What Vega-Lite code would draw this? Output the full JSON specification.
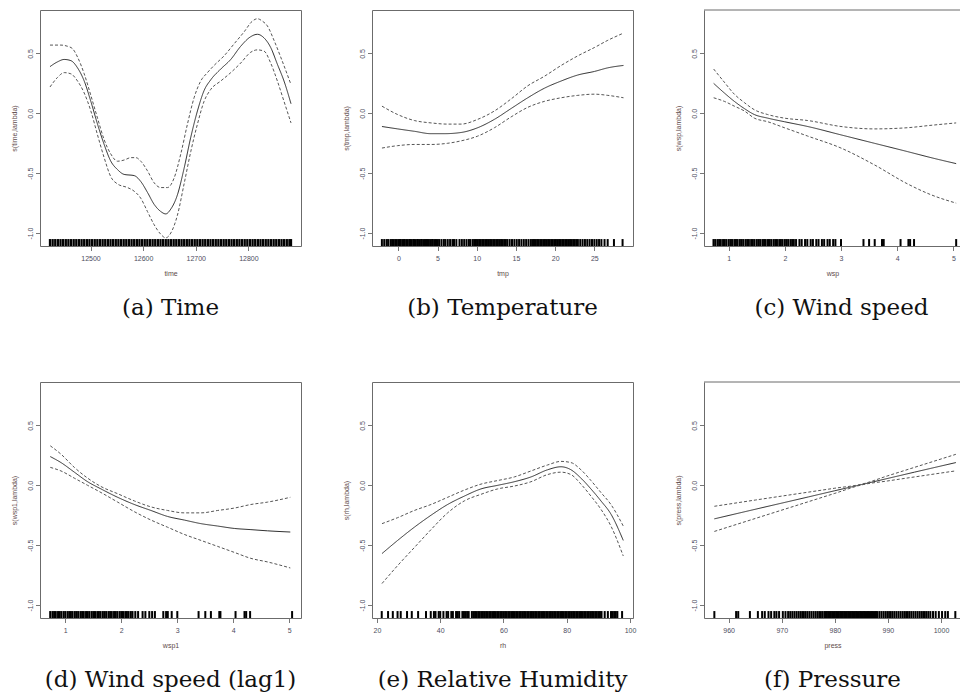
{
"$schema": "https://vega.github.io/schema/vega-lite/v6.json",
"background": "white",
"padding": {"left": 9, "top": 9, "right": 0, "bottom": 0},
"bounds": "flush",
"spacing": 372,
"vconcat": [
{"bounds": "flush", "spacing": 71, "hconcat": [
 {"width": 261, "height": 236, "title": {"text": "(a)  Time"},
  "layer": [
   {"data": {"name": "a_rug"}, "mark": {"type": "rule", "color": "#000", "strokeWidth": 2.3},
    "encoding": {"x": {"field": "x", "type": "quantitative", "scale": {"domain": [12404, 12900], "nice": false, "zero": false}, "axis": {"values": [12500, 12600, 12700, 12800], "format": "d", "title": "time"}},
     "y": {"datum": -1.108, "type": "quantitative", "scale": {"domain": [-1.108, 0.863], "nice": false, "zero": false}, "axis": {"values": [-1, -0.5, 0, 0.5], "labelExpr": "datum.value < 0 ? '-' + format(-datum.value, '.1f') : format(datum.value, '.1f')", "title": "s(time,lambda)"}},
     "y2": {"datum": -1.05}}},
   {"data": {"name": "a_curve"}, "mark": {"type": "line", "interpolate": "monotone", "strokeWidth": 1},
    "encoding": {"x": {"field": "x", "type": "quantitative"}, "y": {"field": "y", "type": "quantitative"},
     "strokeDash": {"field": "s", "type": "nominal", "scale": {"domain": ["fit", "hi", "lo"], "range": [[1, 0], [3, 2], [3, 2]]}, "legend": null},
     "color": {"field": "s", "type": "nominal", "scale": {"domain": ["fit", "hi", "lo"], "range": ["#2e2e2e", "#555555", "#555555"]}, "legend": null}}}
  ]},
 {"width": 261, "height": 236, "title": {"text": "(b)  Temperature"},
  "layer": [
   {"data": {"name": "b_rug"}, "mark": {"type": "rule", "color": "#000", "strokeWidth": 2},
    "encoding": {"x": {"field": "x", "type": "quantitative", "scale": {"domain": [-3.36, 29.93], "nice": false, "zero": false}, "axis": {"values": [0, 5, 10, 15, 20, 25], "format": "d", "title": "tmp"}},
     "y": {"datum": -1.108, "type": "quantitative", "scale": {"domain": [-1.108, 0.863], "nice": false, "zero": false}, "axis": {"values": [-1, -0.5, 0, 0.5], "labelExpr": "datum.value < 0 ? '-' + format(-datum.value, '.1f') : format(datum.value, '.1f')", "title": "s(tmp,lambda)"}},
     "y2": {"datum": -1.05}}},
   {"data": {"name": "b_curve"}, "mark": {"type": "line", "interpolate": "monotone", "strokeWidth": 1},
    "encoding": {"x": {"field": "x", "type": "quantitative"}, "y": {"field": "y", "type": "quantitative"},
     "strokeDash": {"field": "s", "type": "nominal", "scale": {"domain": ["fit", "hi", "lo"], "range": [[1, 0], [3, 2], [3, 2]]}, "legend": null},
     "color": {"field": "s", "type": "nominal", "scale": {"domain": ["fit", "hi", "lo"], "range": ["#2e2e2e", "#555555", "#555555"]}, "legend": null}}}
  ]},
 {"width": 257, "height": 236, "title": {"text": "(c)  Wind speed", "dx": 9}, "view": {"stroke": null},
  "layer": [
   {"data": {"values": [{}]}, "mark": {"type": "rule", "color": "#6b6b6b", "strokeWidth": 1},
    "encoding": {"y": {"datum": 0.863, "type": "quantitative"}}},
   {"data": {"name": "c_rug"}, "mark": {"type": "rule", "color": "#000", "strokeWidth": 2},
    "encoding": {"x": {"field": "x", "type": "quantitative", "scale": {"domain": [0.561, 5.136], "nice": false, "zero": false}, "axis": {"values": [1, 2, 3, 4, 5], "format": "d", "title": "wsp", "domain": true}},
     "y": {"datum": -1.108, "type": "quantitative", "scale": {"domain": [-1.108, 0.863], "nice": false, "zero": false}, "axis": {"values": [-1, -0.5, 0, 0.5], "labelExpr": "datum.value < 0 ? '-' + format(-datum.value, '.1f') : format(datum.value, '.1f')", "title": "s(wsp,lambda)", "domain": true}},
     "y2": {"datum": -1.05}}},
   {"data": {"name": "c_curve"}, "mark": {"type": "line", "interpolate": "monotone", "strokeWidth": 1},
    "encoding": {"x": {"field": "x", "type": "quantitative"}, "y": {"field": "y", "type": "quantitative"},
     "strokeDash": {"field": "s", "type": "nominal", "scale": {"domain": ["fit", "hi", "lo"], "range": [[1, 0], [3, 2], [3, 2]]}, "legend": null},
     "color": {"field": "s", "type": "nominal", "scale": {"domain": ["fit", "hi", "lo"], "range": ["#2e2e2e", "#555555", "#555555"]}, "legend": null}}}
  ]}
]},
{"bounds": "flush", "spacing": 71, "hconcat": [
 {"width": 261, "height": 236, "title": {"text": "(d)  Wind speed (lag1)"},
  "layer": [
   {"data": {"name": "d_rug"}, "mark": {"type": "rule", "color": "#000", "strokeWidth": 2},
    "encoding": {"x": {"field": "x", "type": "quantitative", "scale": {"domain": [0.548, 5.209], "nice": false, "zero": false}, "axis": {"values": [1, 2, 3, 4, 5], "format": "d", "title": "wsp1"}},
     "y": {"datum": -1.108, "type": "quantitative", "scale": {"domain": [-1.108, 0.863], "nice": false, "zero": false}, "axis": {"values": [-1, -0.5, 0, 0.5], "labelExpr": "datum.value < 0 ? '-' + format(-datum.value, '.1f') : format(datum.value, '.1f')", "title": "s(wsp1,lambda)"}},
     "y2": {"datum": -1.05}}},
   {"data": {"name": "d_curve"}, "mark": {"type": "line", "interpolate": "monotone", "strokeWidth": 1},
    "encoding": {"x": {"field": "x", "type": "quantitative"}, "y": {"field": "y", "type": "quantitative"},
     "strokeDash": {"field": "s", "type": "nominal", "scale": {"domain": ["fit", "hi", "lo"], "range": [[1, 0], [3, 2], [3, 2]]}, "legend": null},
     "color": {"field": "s", "type": "nominal", "scale": {"domain": ["fit", "hi", "lo"], "range": ["#2e2e2e", "#555555", "#555555"]}, "legend": null}}}
  ]},
 {"width": 261, "height": 236, "title": {"text": "(e)  Relative Humidity"},
  "layer": [
   {"data": {"name": "e_rug"}, "mark": {"type": "rule", "color": "#000", "strokeWidth": 2},
    "encoding": {"x": {"field": "x", "type": "quantitative", "scale": {"domain": [18.42, 100.95], "nice": false, "zero": false}, "axis": {"values": [20, 40, 60, 80, 100], "format": "d", "title": "rh"}},
     "y": {"datum": -1.108, "type": "quantitative", "scale": {"domain": [-1.108, 0.863], "nice": false, "zero": false}, "axis": {"values": [-1, -0.5, 0, 0.5], "labelExpr": "datum.value < 0 ? '-' + format(-datum.value, '.1f') : format(datum.value, '.1f')", "title": "s(rh,lambda)"}},
     "y2": {"datum": -1.05}}},
   {"data": {"name": "e_curve"}, "mark": {"type": "line", "interpolate": "monotone", "strokeWidth": 1},
    "encoding": {"x": {"field": "x", "type": "quantitative"}, "y": {"field": "y", "type": "quantitative"},
     "strokeDash": {"field": "s", "type": "nominal", "scale": {"domain": ["fit", "hi", "lo"], "range": [[1, 0], [3, 2], [3, 2]]}, "legend": null},
     "color": {"field": "s", "type": "nominal", "scale": {"domain": ["fit", "hi", "lo"], "range": ["#2e2e2e", "#555555", "#555555"]}, "legend": null}}}
  ]},
 {"width": 257, "height": 236, "title": {"text": "(f)  Pressure"}, "view": {"stroke": null},
  "layer": [
   {"data": {"values": [{}]}, "mark": {"type": "rule", "color": "#6b6b6b", "strokeWidth": 1},
    "encoding": {"y": {"datum": 0.863, "type": "quantitative"}}},
   {"data": {"name": "f_rug"}, "mark": {"type": "rule", "color": "#000", "strokeWidth": 2},
    "encoding": {"x": {"field": "x", "type": "quantitative", "scale": {"domain": [955.35, 1003.77], "nice": false, "zero": false}, "axis": {"values": [960, 970, 980, 990, 1000], "format": "d", "title": "press", "domain": true}},
     "y": {"datum": -1.108, "type": "quantitative", "scale": {"domain": [-1.108, 0.863], "nice": false, "zero": false}, "axis": {"values": [-1, -0.5, 0, 0.5], "labelExpr": "datum.value < 0 ? '-' + format(-datum.value, '.1f') : format(datum.value, '.1f')", "title": "s(press,lambda)", "domain": true}},
     "y2": {"datum": -1.05}}},
   {"data": {"name": "f_curve"}, "mark": {"type": "line", "interpolate": "monotone", "strokeWidth": 1},
    "encoding": {"x": {"field": "x", "type": "quantitative"}, "y": {"field": "y", "type": "quantitative"},
     "strokeDash": {"field": "s", "type": "nominal", "scale": {"domain": ["fit", "hi", "lo"], "range": [[1, 0], [3, 2], [3, 2]]}, "legend": null},
     "color": {"field": "s", "type": "nominal", "scale": {"domain": ["fit", "hi", "lo"], "range": ["#2e2e2e", "#555555", "#555555"]}, "legend": null}}}
  ]}
]}
],
"datasets": {
"a_rug": [{"x":12423},{"x":12428},{"x":12433},{"x":12438},{"x":12443},{"x":12448},{"x":12453},{"x":12458},{"x":12463},{"x":12468},{"x":12473},{"x":12478},{"x":12483},{"x":12488},{"x":12493},{"x":12498},{"x":12503},{"x":12508},{"x":12513},{"x":12518},{"x":12523},{"x":12528},{"x":12533},{"x":12538},{"x":12543},{"x":12548},{"x":12553},{"x":12558},{"x":12563},{"x":12568},{"x":12573},{"x":12578},{"x":12583},{"x":12588},{"x":12593},{"x":12598},{"x":12603},{"x":12608},{"x":12613},{"x":12618},{"x":12623},{"x":12628},{"x":12633},{"x":12638},{"x":12643},{"x":12648},{"x":12653},{"x":12658},{"x":12663},{"x":12668},{"x":12673},{"x":12678},{"x":12683},{"x":12688},{"x":12693},{"x":12698},{"x":12703},{"x":12708},{"x":12713},{"x":12718},{"x":12723},{"x":12728},{"x":12733},{"x":12738},{"x":12743},{"x":12748},{"x":12753},{"x":12758},{"x":12763},{"x":12768},{"x":12773},{"x":12778},{"x":12783},{"x":12788},{"x":12793},{"x":12798},{"x":12803},{"x":12808},{"x":12813},{"x":12818},{"x":12823},{"x":12828},{"x":12833},{"x":12838},{"x":12843},{"x":12848},{"x":12853},{"x":12858},{"x":12863},{"x":12868},{"x":12873},{"x":12878},{"x":12881}],
"a_curve": [
{"x":12423,"y":0.39,"s":"fit"},{"x":12437.3,"y":0.43,"s":"fit"},{"x":12450,"y":0.45,"s":"fit"},{"x":12462.7,"y":0.44,"s":"fit"},{"x":12475.3,"y":0.38,"s":"fit"},{"x":12488,"y":0.27,"s":"fit"},{"x":12500.6,"y":0.10,"s":"fit"},{"x":12513.3,"y":-0.09,"s":"fit"},{"x":12525.9,"y":-0.26,"s":"fit"},{"x":12538.6,"y":-0.40,"s":"fit"},{"x":12551.3,"y":-0.47,"s":"fit"},{"x":12563.9,"y":-0.51,"s":"fit"},{"x":12582.9,"y":-0.52,"s":"fit"},{"x":12595.6,"y":-0.57,"s":"fit"},{"x":12608.2,"y":-0.66,"s":"fit"},{"x":12620.9,"y":-0.76,"s":"fit"},{"x":12633.5,"y":-0.82,"s":"fit"},{"x":12643,"y":-0.84,"s":"fit"},{"x":12652.5,"y":-0.80,"s":"fit"},{"x":12665.2,"y":-0.68,"s":"fit"},{"x":12677.8,"y":-0.46,"s":"fit"},{"x":12690.5,"y":-0.20,"s":"fit"},{"x":12703.2,"y":0.02,"s":"fit"},{"x":12715.8,"y":0.19,"s":"fit"},{"x":12728.5,"y":0.28,"s":"fit"},{"x":12747.5,"y":0.37,"s":"fit"},{"x":12766.5,"y":0.45,"s":"fit"},{"x":12785.4,"y":0.56,"s":"fit"},{"x":12804.4,"y":0.64,"s":"fit"},{"x":12817.1,"y":0.66,"s":"fit"},{"x":12829.7,"y":0.63,"s":"fit"},{"x":12842.4,"y":0.55,"s":"fit"},{"x":12855.1,"y":0.41,"s":"fit"},{"x":12867.7,"y":0.27,"s":"fit"},{"x":12881,"y":0.08,"s":"fit"},
{"x":12423,"y":0.57,"s":"hi"},{"x":12443.7,"y":0.57,"s":"hi"},{"x":12456.3,"y":0.56,"s":"hi"},{"x":12465.8,"y":0.54,"s":"hi"},{"x":12475.3,"y":0.47,"s":"hi"},{"x":12488,"y":0.33,"s":"hi"},{"x":12500.6,"y":0.15,"s":"hi"},{"x":12513.3,"y":-0.04,"s":"hi"},{"x":12525.9,"y":-0.22,"s":"hi"},{"x":12538.6,"y":-0.34,"s":"hi"},{"x":12551.3,"y":-0.40,"s":"hi"},{"x":12563.9,"y":-0.39,"s":"hi"},{"x":12576.6,"y":-0.37,"s":"hi"},{"x":12586.1,"y":-0.37,"s":"hi"},{"x":12595.6,"y":-0.40,"s":"hi"},{"x":12608.2,"y":-0.48,"s":"hi"},{"x":12620.9,"y":-0.58,"s":"hi"},{"x":12633.5,"y":-0.62,"s":"hi"},{"x":12646.2,"y":-0.62,"s":"hi"},{"x":12658.9,"y":-0.54,"s":"hi"},{"x":12671.5,"y":-0.34,"s":"hi"},{"x":12684.2,"y":-0.09,"s":"hi"},{"x":12696.8,"y":0.13,"s":"hi"},{"x":12709.5,"y":0.27,"s":"hi"},{"x":12722.2,"y":0.34,"s":"hi"},{"x":12734.8,"y":0.40,"s":"hi"},{"x":12753.8,"y":0.48,"s":"hi"},{"x":12772.8,"y":0.58,"s":"hi"},{"x":12791.8,"y":0.68,"s":"hi"},{"x":12807.6,"y":0.77,"s":"hi"},{"x":12817.1,"y":0.79,"s":"hi"},{"x":12826.6,"y":0.77,"s":"hi"},{"x":12836.1,"y":0.73,"s":"hi"},{"x":12848.7,"y":0.61,"s":"hi"},{"x":12861.4,"y":0.47,"s":"hi"},{"x":12881,"y":0.24,"s":"hi"},
{"x":12423,"y":0.22,"s":"lo"},{"x":12437.3,"y":0.30,"s":"lo"},{"x":12450,"y":0.34,"s":"lo"},{"x":12462.7,"y":0.33,"s":"lo"},{"x":12475.3,"y":0.27,"s":"lo"},{"x":12488,"y":0.17,"s":"lo"},{"x":12500.6,"y":0.02,"s":"lo"},{"x":12513.3,"y":-0.18,"s":"lo"},{"x":12525.9,"y":-0.37,"s":"lo"},{"x":12538.6,"y":-0.53,"s":"lo"},{"x":12551.3,"y":-0.59,"s":"lo"},{"x":12570.3,"y":-0.62,"s":"lo"},{"x":12582.9,"y":-0.65,"s":"lo"},{"x":12595.6,"y":-0.71,"s":"lo"},{"x":12608.2,"y":-0.82,"s":"lo"},{"x":12620.9,"y":-0.93,"s":"lo"},{"x":12633.5,"y":-1.01,"s":"lo"},{"x":12643,"y":-1.04,"s":"lo"},{"x":12652.5,"y":-1.00,"s":"lo"},{"x":12665.2,"y":-0.85,"s":"lo"},{"x":12677.8,"y":-0.59,"s":"lo"},{"x":12690.5,"y":-0.32,"s":"lo"},{"x":12703.2,"y":-0.09,"s":"lo"},{"x":12715.8,"y":0.10,"s":"lo"},{"x":12728.5,"y":0.20,"s":"lo"},{"x":12747.5,"y":0.27,"s":"lo"},{"x":12766.5,"y":0.34,"s":"lo"},{"x":12785.4,"y":0.42,"s":"lo"},{"x":12804.4,"y":0.51,"s":"lo"},{"x":12817.1,"y":0.53,"s":"lo"},{"x":12829.7,"y":0.52,"s":"lo"},{"x":12842.4,"y":0.42,"s":"lo"},{"x":12855.1,"y":0.27,"s":"lo"},{"x":12867.7,"y":0.10,"s":"lo"},{"x":12881,"y":-0.08,"s":"lo"}],
"b_rug": [{"x":-2.1},{"x":-1.8},{"x":-1.5},{"x":-1.3},{"x":-1.0},{"x":-0.8},{"x":-0.6},{"x":-0.4},{"x":-0.2},{"x":0.0},{"x":0.2},{"x":0.3},{"x":0.5},{"x":0.7},{"x":0.8},{"x":1.0},{"x":1.2},{"x":1.4},{"x":1.5},{"x":1.7},{"x":1.9},{"x":2.0},{"x":2.2},{"x":2.4},{"x":2.5},{"x":2.7},{"x":2.9},{"x":3.0},{"x":3.2},{"x":3.4},{"x":3.6},{"x":3.7},{"x":3.9},{"x":4.1},{"x":4.3},{"x":4.4},{"x":4.6},{"x":4.8},{"x":5.0},{"x":5.2},{"x":5.5},{"x":5.8},{"x":6.0},{"x":6.3},{"x":6.6},{"x":6.9},{"x":7.1},{"x":7.4},{"x":7.8},{"x":8.1},{"x":8.4},{"x":8.7},{"x":9.0},{"x":9.2},{"x":9.5},{"x":9.7},{"x":9.9},{"x":10.1},{"x":10.3},{"x":10.5},{"x":10.7},{"x":10.9},{"x":11.1},{"x":11.3},{"x":11.5},{"x":11.7},{"x":11.9},{"x":12.1},{"x":12.3},{"x":12.5},{"x":12.7},{"x":12.9},{"x":13.1},{"x":13.3},{"x":13.5},{"x":13.7},{"x":13.9},{"x":14.2},{"x":14.5},{"x":14.8},{"x":15.1},{"x":15.4},{"x":15.7},{"x":16.0},{"x":16.3},{"x":16.6},{"x":16.9},{"x":17.1},{"x":17.3},{"x":17.5},{"x":17.7},{"x":17.9},{"x":18.1},{"x":18.3},{"x":18.5},{"x":18.7},{"x":18.9},{"x":19.1},{"x":19.3},{"x":19.5},{"x":19.7},{"x":19.9},{"x":20.1},{"x":20.3},{"x":20.5},{"x":20.7},{"x":20.9},{"x":21.1},{"x":21.3},{"x":21.5},{"x":21.7},{"x":21.9},{"x":22.1},{"x":22.3},{"x":22.5},{"x":22.7},{"x":22.9},{"x":23.2},{"x":23.5},{"x":23.8},{"x":24.1},{"x":24.4},{"x":24.7},{"x":25.0},{"x":25.3},{"x":25.6},{"x":25.9},{"x":26.3},{"x":26.7},{"x":27.5},{"x":28.6}],
"b_curve": [
{"x":-2.09,"y":-0.11,"s":"fit"},{"x":-0.09,"y":-0.13,"s":"fit"},{"x":2.04,"y":-0.15,"s":"fit"},{"x":4.17,"y":-0.17,"s":"fit"},{"x":5.87,"y":-0.17,"s":"fit"},{"x":8.0,"y":-0.16,"s":"fit"},{"x":10.13,"y":-0.12,"s":"fit"},{"x":12.26,"y":-0.05,"s":"fit"},{"x":14.38,"y":0.04,"s":"fit"},{"x":16.51,"y":0.13,"s":"fit"},{"x":18.64,"y":0.21,"s":"fit"},{"x":20.77,"y":0.27,"s":"fit"},{"x":22.89,"y":0.32,"s":"fit"},{"x":25.02,"y":0.35,"s":"fit"},{"x":26.72,"y":0.38,"s":"fit"},{"x":28.72,"y":0.40,"s":"fit"},
{"x":-2.09,"y":0.06,"s":"hi"},{"x":-0.09,"y":-0.01,"s":"hi"},{"x":2.04,"y":-0.06,"s":"hi"},{"x":4.17,"y":-0.08,"s":"hi"},{"x":6.30,"y":-0.09,"s":"hi"},{"x":8.0,"y":-0.09,"s":"hi"},{"x":10.13,"y":-0.05,"s":"hi"},{"x":12.26,"y":0.02,"s":"hi"},{"x":14.38,"y":0.12,"s":"hi"},{"x":16.51,"y":0.23,"s":"hi"},{"x":18.64,"y":0.31,"s":"hi"},{"x":20.77,"y":0.40,"s":"hi"},{"x":22.89,"y":0.48,"s":"hi"},{"x":25.02,"y":0.55,"s":"hi"},{"x":26.72,"y":0.61,"s":"hi"},{"x":28.72,"y":0.67,"s":"hi"},
{"x":-2.09,"y":-0.29,"s":"lo"},{"x":-0.09,"y":-0.27,"s":"lo"},{"x":2.04,"y":-0.26,"s":"lo"},{"x":4.17,"y":-0.26,"s":"lo"},{"x":6.30,"y":-0.25,"s":"lo"},{"x":8.0,"y":-0.23,"s":"lo"},{"x":10.13,"y":-0.19,"s":"lo"},{"x":12.26,"y":-0.12,"s":"lo"},{"x":14.38,"y":-0.03,"s":"lo"},{"x":16.51,"y":0.05,"s":"lo"},{"x":18.64,"y":0.10,"s":"lo"},{"x":20.77,"y":0.13,"s":"lo"},{"x":22.89,"y":0.15,"s":"lo"},{"x":25.02,"y":0.16,"s":"lo"},{"x":26.72,"y":0.15,"s":"lo"},{"x":28.72,"y":0.13,"s":"lo"}],
"c_rug": [{"x":0.73},{"x":0.76},{"x":0.8},{"x":0.83},{"x":0.86},{"x":0.9},{"x":0.93},{"x":0.96},{"x":1.0},{"x":1.03},{"x":1.06},{"x":1.1},{"x":1.13},{"x":1.16},{"x":1.2},{"x":1.23},{"x":1.26},{"x":1.3},{"x":1.33},{"x":1.36},{"x":1.4},{"x":1.43},{"x":1.46},{"x":1.5},{"x":1.53},{"x":1.56},{"x":1.6},{"x":1.63},{"x":1.66},{"x":1.7},{"x":1.73},{"x":1.76},{"x":1.8},{"x":1.83},{"x":1.86},{"x":1.9},{"x":1.93},{"x":1.96},{"x":2.0},{"x":2.03},{"x":2.06},{"x":2.1},{"x":2.13},{"x":2.16},{"x":2.2},{"x":2.26},{"x":2.3},{"x":2.36},{"x":2.4},{"x":2.46},{"x":2.5},{"x":2.56},{"x":2.6},{"x":2.66},{"x":2.7},{"x":2.76},{"x":2.8},{"x":2.86},{"x":2.9},{"x":3.0},{"x":3.4},{"x":3.5},{"x":3.6},{"x":3.73},{"x":3.76},{"x":4.06},{"x":4.2},{"x":4.23},{"x":4.3},{"x":5.05}],
"c_curve": [
{"x":0.733,"y":0.25,"s":"fit"},{"x":0.923,"y":0.17,"s":"fit"},{"x":1.101,"y":0.10,"s":"fit"},{"x":1.279,"y":0.04,"s":"fit"},{"x":1.457,"y":-0.01,"s":"fit"},{"x":1.694,"y":-0.04,"s":"fit"},{"x":1.991,"y":-0.07,"s":"fit"},{"x":2.407,"y":-0.11,"s":"fit"},{"x":3.0,"y":-0.18,"s":"fit"},{"x":3.593,"y":-0.25,"s":"fit"},{"x":4.187,"y":-0.32,"s":"fit"},{"x":4.602,"y":-0.37,"s":"fit"},{"x":5.05,"y":-0.42,"s":"fit"},
{"x":0.733,"y":0.37,"s":"hi"},{"x":0.923,"y":0.26,"s":"hi"},{"x":1.101,"y":0.16,"s":"hi"},{"x":1.279,"y":0.09,"s":"hi"},{"x":1.457,"y":0.03,"s":"hi"},{"x":1.694,"y":-0.01,"s":"hi"},{"x":1.991,"y":-0.04,"s":"hi"},{"x":2.407,"y":-0.06,"s":"hi"},{"x":3.0,"y":-0.11,"s":"hi"},{"x":3.593,"y":-0.13,"s":"hi"},{"x":4.187,"y":-0.12,"s":"hi"},{"x":4.602,"y":-0.10,"s":"hi"},{"x":5.05,"y":-0.08,"s":"hi"},
{"x":0.733,"y":0.13,"s":"lo"},{"x":0.923,"y":0.10,"s":"lo"},{"x":1.101,"y":0.06,"s":"lo"},{"x":1.279,"y":0.02,"s":"lo"},{"x":1.457,"y":-0.04,"s":"lo"},{"x":1.694,"y":-0.07,"s":"lo"},{"x":1.991,"y":-0.12,"s":"lo"},{"x":2.407,"y":-0.19,"s":"lo"},{"x":3.0,"y":-0.29,"s":"lo"},{"x":3.593,"y":-0.43,"s":"lo"},{"x":4.187,"y":-0.59,"s":"lo"},{"x":4.602,"y":-0.68,"s":"lo"},{"x":5.05,"y":-0.75,"s":"lo"}],
"d_rug": [{"x":0.73},{"x":0.77},{"x":0.8},{"x":0.83},{"x":0.87},{"x":0.9},{"x":0.93},{"x":0.97},{"x":1.0},{"x":1.04},{"x":1.07},{"x":1.1},{"x":1.13},{"x":1.17},{"x":1.2},{"x":1.23},{"x":1.27},{"x":1.3},{"x":1.33},{"x":1.37},{"x":1.4},{"x":1.43},{"x":1.47},{"x":1.5},{"x":1.53},{"x":1.57},{"x":1.6},{"x":1.63},{"x":1.67},{"x":1.7},{"x":1.73},{"x":1.77},{"x":1.8},{"x":1.83},{"x":1.87},{"x":1.9},{"x":1.93},{"x":1.97},{"x":2.0},{"x":2.03},{"x":2.07},{"x":2.1},{"x":2.13},{"x":2.17},{"x":2.2},{"x":2.25},{"x":2.3},{"x":2.38},{"x":2.43},{"x":2.5},{"x":2.55},{"x":2.6},{"x":2.75},{"x":2.8},{"x":2.83},{"x":2.9},{"x":3.0},{"x":3.38},{"x":3.5},{"x":3.6},{"x":3.75},{"x":3.77},{"x":4.04},{"x":4.2},{"x":4.23},{"x":4.3},{"x":5.05}],
"d_curve": [
{"x":0.732,"y":0.24,"s":"fit"},{"x":0.923,"y":0.19,"s":"fit"},{"x":1.161,"y":0.11,"s":"fit"},{"x":1.399,"y":0.03,"s":"fit"},{"x":1.637,"y":-0.03,"s":"fit"},{"x":1.935,"y":-0.10,"s":"fit"},{"x":2.232,"y":-0.16,"s":"fit"},{"x":2.530,"y":-0.21,"s":"fit"},{"x":2.827,"y":-0.26,"s":"fit"},{"x":3.125,"y":-0.29,"s":"fit"},{"x":3.423,"y":-0.32,"s":"fit"},{"x":3.720,"y":-0.34,"s":"fit"},{"x":4.018,"y":-0.36,"s":"fit"},{"x":4.315,"y":-0.37,"s":"fit"},{"x":4.613,"y":-0.38,"s":"fit"},{"x":5.018,"y":-0.39,"s":"fit"},
{"x":0.732,"y":0.33,"s":"hi"},{"x":0.923,"y":0.26,"s":"hi"},{"x":1.161,"y":0.15,"s":"hi"},{"x":1.399,"y":0.06,"s":"hi"},{"x":1.637,"y":-0.01,"s":"hi"},{"x":1.935,"y":-0.07,"s":"hi"},{"x":2.232,"y":-0.13,"s":"hi"},{"x":2.530,"y":-0.18,"s":"hi"},{"x":2.827,"y":-0.21,"s":"hi"},{"x":3.125,"y":-0.23,"s":"hi"},{"x":3.423,"y":-0.23,"s":"hi"},{"x":3.720,"y":-0.21,"s":"hi"},{"x":4.018,"y":-0.19,"s":"hi"},{"x":4.315,"y":-0.16,"s":"hi"},{"x":4.613,"y":-0.14,"s":"hi"},{"x":5.018,"y":-0.10,"s":"hi"},
{"x":0.732,"y":0.15,"s":"lo"},{"x":0.923,"y":0.12,"s":"lo"},{"x":1.161,"y":0.06,"s":"lo"},{"x":1.399,"y":0.00,"s":"lo"},{"x":1.637,"y":-0.06,"s":"lo"},{"x":1.935,"y":-0.14,"s":"lo"},{"x":2.232,"y":-0.22,"s":"lo"},{"x":2.530,"y":-0.29,"s":"lo"},{"x":2.827,"y":-0.35,"s":"lo"},{"x":3.125,"y":-0.41,"s":"lo"},{"x":3.423,"y":-0.46,"s":"lo"},{"x":3.720,"y":-0.51,"s":"lo"},{"x":4.018,"y":-0.56,"s":"lo"},{"x":4.315,"y":-0.61,"s":"lo"},{"x":4.613,"y":-0.64,"s":"lo"},{"x":5.018,"y":-0.69,"s":"lo"}],
"e_rug": [{"x":21.5},{"x":23.5},{"x":25},{"x":26.5},{"x":27.5},{"x":29.5},{"x":31},{"x":33},{"x":35.5},{"x":37},{"x":38},{"x":38.5},{"x":39.5},{"x":40},{"x":41},{"x":42},{"x":42.5},{"x":43.5},{"x":44},{"x":45},{"x":45.5},{"x":46},{"x":47},{"x":47.5},{"x":48},{"x":48.5},{"x":49},{"x":50},{"x":50.5},{"x":51},{"x":51.5},{"x":52},{"x":52.5},{"x":53},{"x":53.5},{"x":54},{"x":54.5},{"x":55},{"x":55.5},{"x":56},{"x":56.5},{"x":57},{"x":57.5},{"x":58},{"x":58.5},{"x":59},{"x":59.5},{"x":60},{"x":60.5},{"x":61},{"x":61.5},{"x":62},{"x":62.5},{"x":63},{"x":63.5},{"x":64},{"x":64.5},{"x":65},{"x":65.5},{"x":66},{"x":66.5},{"x":67},{"x":67.5},{"x":68},{"x":68.5},{"x":69},{"x":69.5},{"x":70},{"x":70.5},{"x":71},{"x":71.5},{"x":72},{"x":72.5},{"x":73},{"x":73.5},{"x":74},{"x":74.5},{"x":75},{"x":75.5},{"x":76},{"x":76.5},{"x":77},{"x":77.5},{"x":78},{"x":78.5},{"x":79},{"x":79.5},{"x":80},{"x":80.5},{"x":81},{"x":81.5},{"x":82},{"x":82.5},{"x":83},{"x":83.5},{"x":84},{"x":84.5},{"x":85},{"x":85.5},{"x":86},{"x":86.5},{"x":87},{"x":87.5},{"x":88},{"x":88.5},{"x":89},{"x":89.5},{"x":90},{"x":90.5},{"x":91},{"x":92},{"x":93},{"x":94},{"x":94.5},{"x":95},{"x":95.5},{"x":96},{"x":97.5}],
"e_curve": [
{"x":21.58,"y":-0.57,"s":"fit"},{"x":26.53,"y":-0.46,"s":"fit"},{"x":31.80,"y":-0.35,"s":"fit"},{"x":37.07,"y":-0.25,"s":"fit"},{"x":42.34,"y":-0.16,"s":"fit"},{"x":47.61,"y":-0.09,"s":"fit"},{"x":52.88,"y":-0.03,"s":"fit"},{"x":58.15,"y":0.00,"s":"fit"},{"x":63.41,"y":0.03,"s":"fit"},{"x":68.68,"y":0.07,"s":"fit"},{"x":73.95,"y":0.13,"s":"fit"},{"x":78.17,"y":0.155,"s":"fit"},{"x":81.33,"y":0.13,"s":"fit"},{"x":84.49,"y":0.06,"s":"fit"},{"x":87.65,"y":-0.03,"s":"fit"},{"x":90.81,"y":-0.13,"s":"fit"},{"x":93.97,"y":-0.24,"s":"fit"},{"x":97.87,"y":-0.46,"s":"fit"},
{"x":21.58,"y":-0.32,"s":"hi"},{"x":26.53,"y":-0.27,"s":"hi"},{"x":31.80,"y":-0.21,"s":"hi"},{"x":37.07,"y":-0.16,"s":"hi"},{"x":42.34,"y":-0.10,"s":"hi"},{"x":47.61,"y":-0.04,"s":"hi"},{"x":52.88,"y":0.01,"s":"hi"},{"x":58.15,"y":0.04,"s":"hi"},{"x":63.41,"y":0.07,"s":"hi"},{"x":68.68,"y":0.12,"s":"hi"},{"x":73.95,"y":0.17,"s":"hi"},{"x":78.17,"y":0.20,"s":"hi"},{"x":81.33,"y":0.19,"s":"hi"},{"x":84.49,"y":0.13,"s":"hi"},{"x":87.65,"y":0.04,"s":"hi"},{"x":90.81,"y":-0.06,"s":"hi"},{"x":93.97,"y":-0.16,"s":"hi"},{"x":97.87,"y":-0.34,"s":"hi"},
{"x":21.58,"y":-0.82,"s":"lo"},{"x":26.53,"y":-0.67,"s":"lo"},{"x":31.80,"y":-0.52,"s":"lo"},{"x":37.07,"y":-0.37,"s":"lo"},{"x":42.34,"y":-0.23,"s":"lo"},{"x":47.61,"y":-0.13,"s":"lo"},{"x":52.88,"y":-0.075,"s":"lo"},{"x":58.15,"y":-0.03,"s":"lo"},{"x":63.41,"y":-0.006,"s":"lo"},{"x":68.68,"y":0.03,"s":"lo"},{"x":73.95,"y":0.09,"s":"lo"},{"x":78.17,"y":0.11,"s":"lo"},{"x":81.33,"y":0.09,"s":"lo"},{"x":84.49,"y":0.01,"s":"lo"},{"x":87.65,"y":-0.09,"s":"lo"},{"x":90.81,"y":-0.20,"s":"lo"},{"x":93.97,"y":-0.34,"s":"lo"},{"x":97.87,"y":-0.59,"s":"lo"}],
"f_rug": [{"x":957.3},{"x":961.4},{"x":961.8},{"x":964},{"x":965.5},{"x":966.3},{"x":966.8},{"x":967.5},{"x":968},{"x":968.6},{"x":969},{"x":969.5},{"x":970.2},{"x":970.7},{"x":971.2},{"x":971.6},{"x":972},{"x":972.4},{"x":972.8},{"x":973.2},{"x":973.6},{"x":974},{"x":974.4},{"x":974.8},{"x":975.2},{"x":975.6},{"x":976},{"x":976.4},{"x":976.8},{"x":977.2},{"x":977.6},{"x":978},{"x":978.25},{"x":978.5},{"x":978.75},{"x":979},{"x":979.25},{"x":979.5},{"x":979.75},{"x":980},{"x":980.25},{"x":980.5},{"x":980.75},{"x":981},{"x":981.25},{"x":981.5},{"x":981.75},{"x":982},{"x":982.25},{"x":982.5},{"x":982.75},{"x":983},{"x":983.25},{"x":983.5},{"x":983.75},{"x":984},{"x":984.25},{"x":984.5},{"x":984.75},{"x":985},{"x":985.25},{"x":985.5},{"x":985.75},{"x":986},{"x":986.25},{"x":986.5},{"x":986.75},{"x":987},{"x":987.25},{"x":987.5},{"x":987.75},{"x":988},{"x":988.4},{"x":988.8},{"x":989.2},{"x":989.6},{"x":990},{"x":990.4},{"x":990.8},{"x":991.2},{"x":991.6},{"x":992},{"x":992.4},{"x":992.8},{"x":993.2},{"x":993.6},{"x":994},{"x":994.4},{"x":994.8},{"x":995.2},{"x":995.6},{"x":996},{"x":996.4},{"x":996.8},{"x":997.2},{"x":997.6},{"x":998},{"x":998.5},{"x":999},{"x":999.6},{"x":1000.2},{"x":1000.8},{"x":1001.3},{"x":1002.7}],
"f_curve": [
{"x":957.3,"y":-0.28,"s":"fit"},{"x":965,"y":-0.2,"s":"fit"},{"x":975,"y":-0.097,"s":"fit"},{"x":980,"y":-0.045,"s":"fit"},{"x":985,"y":0.006,"s":"fit"},{"x":990,"y":0.058,"s":"fit"},{"x":995,"y":0.11,"s":"fit"},{"x":1002.8,"y":0.19,"s":"fit"},
{"x":957.3,"y":-0.175,"s":"hi"},{"x":965,"y":-0.123,"s":"hi"},{"x":975,"y":-0.057,"s":"hi"},{"x":980,"y":-0.024,"s":"hi"},{"x":985,"y":0.009,"s":"hi"},{"x":990,"y":0.08,"s":"hi"},{"x":995,"y":0.15,"s":"hi"},{"x":1002.8,"y":0.259,"s":"hi"},
{"x":957.3,"y":-0.385,"s":"lo"},{"x":965,"y":-0.277,"s":"lo"},{"x":975,"y":-0.137,"s":"lo"},{"x":980,"y":-0.067,"s":"lo"},{"x":985,"y":0.003,"s":"lo"},{"x":990,"y":0.037,"s":"lo"},{"x":995,"y":0.07,"s":"lo"},{"x":1002.8,"y":0.121,"s":"lo"}]
},
"config": {
 "font": "Liberation Sans",
 "view": {"stroke": "#6b6b6b", "strokeWidth": 1},
 "axis": {"grid": false, "domain": false, "domainColor": "#6b6b6b", "labelFont": "Liberation Sans", "labelFontSize": 7, "labelColor": "#4d4d5e", "titleFont": "Liberation Sans", "titleFontSize": 7, "titleFontWeight": "normal", "titleColor": "#5e4a4a", "tickColor": "#777777", "tickSize": 4.5},
 "axisX": {"labelPadding": 4, "titlePadding": 8},
 "axisY": {"labelAngle": -90, "labelPadding": 2.5, "titlePadding": 9},
 "title": {"font": "DejaVu Serif", "fontSize": 23, "fontWeight": "normal", "color": "#111111", "orient": "bottom", "anchor": "middle", "frame": "group", "offset": 20}
}
}
